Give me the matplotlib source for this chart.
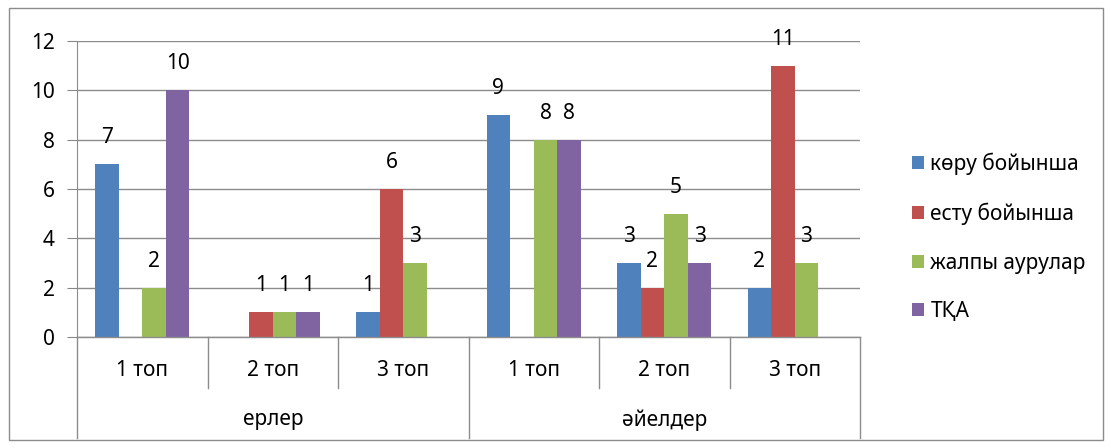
import numpy as np
import matplotlib
matplotlib.use("Agg")
import matplotlib.pyplot as plt
from matplotlib.patches import Rectangle

plt.rcParams['font.family'] = ['Noto Sans', 'DejaVu Sans']

groups = ["ерлер", "әйелдер"]
subgroups = ["1 топ", "2 топ", "3 топ"]
series = ["көру бойынша", "есту бойынша", "жалпы аурулар", "ТҚА"]
koru = [7, 0, 1, 9, 3, 2]
estu = [0, 1, 6, 0, 2, 11]
zhalpy = [2, 1, 3, 8, 5, 3]
tqa = [10, 1, 0, 8, 3, 0]
colors = ["#4F81BD", "#C0504D", "#9BBB59", "#8064A2"]

W, H = 1111, 448
fs = 15
fig = plt.figure(figsize=(W / 100, H / 100), dpi=100)

# outer chart border
fig.patches.append(Rectangle((9 / W, 8 / H), 1094 / W, 432 / H, transform=fig.transFigure,
                             fill=False, edgecolor="#8c8c8c", linewidth=1))

ax = fig.add_axes([77 / W, 1 - 337 / H, (860 - 77) / W, (337 - 41) / H])
n = len(koru)
x = np.arange(n)
bw = 0.181
for k, (vals, c) in enumerate(zip([koru, estu, zhalpy, tqa], colors)):
    xs = x + (k - 1.5) * bw
    ax.bar(xs, vals, width=bw, color=c, label=series[k], zorder=3)
    for xi, v in zip(xs, vals):
        if v:
            ax.annotate(str(v), (xi, v), xytext=(0, 19), textcoords="offset points",
                        ha="center", va="center", fontsize=fs)

ax.set_xlim(-0.5, n - 0.5)
ax.set_ylim(0, 12)
ax.set_yticks(range(0, 13, 2))
ax.tick_params(axis="y", length=7, color="#888888", labelsize=fs, pad=9)
ax.set_xticks([])
ax.grid(axis="y", color="#8c8c8c", linewidth=1, zorder=0)
for s in ["top", "right", "bottom"]:
    ax.spines[s].set_visible(False)
ax.spines["left"].set_color("#8c8c8c")

# multi-level category axis
tr = ax.get_xaxis_transform()
ax.plot([-0.5, n - 0.5], [0, 0], color="#8c8c8c", lw=1, transform=tr, clip_on=False, zorder=4)
for b in np.arange(n + 1) - 0.5:
    bottom = -0.341 if b in (-0.5, 2.5, n - 0.5) else -0.172
    ax.plot([b, b], [0, bottom], color="#8c8c8c", lw=1, transform=tr, clip_on=False)
for i in range(n):
    ax.text(i, -0.113, subgroups[i % 3], transform=tr, ha="center", va="center", fontsize=fs)
for g, name in enumerate(groups):
    ax.text(g * 3 + 1, -0.28, name, transform=tr, ha="center", va="center", fontsize=fs)

leg = ax.legend(loc="upper left", bbox_to_anchor=(893 / W, 1 - 134 / H), bbox_transform=fig.transFigure,
                frameon=False, fontsize=fs, handlelength=0.6, handleheight=0.6,
                handletextpad=0.3, labelspacing=1.32)

fig.savefig("out.png", dpi=100)
